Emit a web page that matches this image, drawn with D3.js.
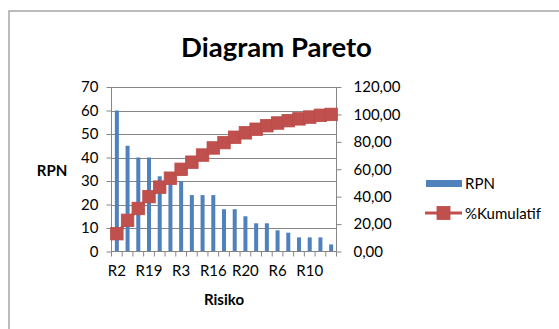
<!DOCTYPE html>
<html>
<head>
<meta charset="utf-8">
<script src="https://cdn.jsdelivr.net/npm/d3@7"></script>
<style>
  html, body { margin: 0; padding: 0; background: #fff; }
  svg { display: block; font-family: Lato, "Open Sans", sans-serif; }
</style>
</head>
<body>
<svg id="chart" width="559" height="329"></svg>
<script>
// Risks sorted by RPN (descending) for the Pareto analysis
const categories = ["R2", "R7", "R12", "R19", "R1", "R14", "R3", "R8", "R11", "R16",
                    "R4", "R9", "R20", "R13", "R17", "R6", "R5", "R15", "R10", "R18", "R21"];
const rpnValues = [60, 45, 40, 40, 32, 30, 30, 24, 24, 24,
                   18, 18, 15, 12, 12, 9, 8, 6, 6, 6, 3];
const leftTicks = [0, 10, 20, 30, 40, 50, 60, 70];
const rightTicks = [0, 20, 40, 60, 80, 100, 120];
const shownLabels = ["R2", "R19", "R3", "R16", "R20", "R6", "R10"];

const total = d3.sum(rpnValues);
let running = 0;
const cumulative = rpnValues.map(v => { running += v; return running / total * 100; });

const svg = d3.select("#chart");
const plot = { left: 111.5, right: 336.5, top: 87, bottom: 251.5 };

const x = d3.scaleBand().domain(categories).range([plot.left, plot.right]).paddingInner(0).paddingOuter(0);
const yL = d3.scaleLinear().domain([0, 70]).range([plot.bottom, plot.top]);
const yR = d3.scaleLinear().domain([0, 120]).range([plot.bottom, plot.top]);

const blue = "#4f81bd", red = "#c0504d", axisGray = "#868686";

// chart frame
svg.append("rect").attr("x", 9).attr("y", 11).attr("width", 560).attr("height", 330)
  .attr("fill", "#fff").attr("stroke", "#a6a6a6").attr("stroke-width", 1.5);

// title
svg.append("text").attr("x", 276.5).attr("y", 57).attr("text-anchor", "middle")
  .attr("font-size", 27.5).attr("font-weight", "bold").attr("fill", "#000").text("Diagram Pareto");

// horizontal gridlines on the left axis ticks
svg.append("g").selectAll("line").data(leftTicks.filter(t => t > 0)).join("line")
  .attr("x1", plot.left).attr("x2", plot.right)
  .attr("y1", d => Math.round(yL(d)) + 0.5).attr("y2", d => Math.round(yL(d)) + 0.5)
  .attr("stroke", "#868686").attr("stroke-width", 1);

// bars
const barW = 4;
svg.append("g").selectAll("rect").data(rpnValues).join("rect")
  .attr("x", (d, i) => x(categories[i]) + x.bandwidth() / 2 - barW / 2)
  .attr("y", d => yL(d))
  .attr("width", barW)
  .attr("height", d => plot.bottom - yL(d))
  .attr("fill", blue);

// left axis
const axL = svg.append("g").attr("transform", `translate(${plot.left},0)`)
  .call(d3.axisLeft(yL).tickValues(leftTicks).tickSize(5).tickPadding(8).tickFormat(d3.format("d")));
// right axis
const fmtComma = d => d.toFixed(2).replace(".", ",");
const axR = svg.append("g").attr("transform", `translate(${plot.right},0)`)
  .call(d3.axisRight(yR).tickValues(rightTicks).tickSize(5).tickPadding(12).tickFormat(fmtComma));
// bottom axis
const axB = svg.append("g").attr("transform", `translate(0,${plot.bottom})`)
  .call(d3.axisBottom(x).tickSize(0).tickPadding(14)
    .tickFormat(d => shownLabels.includes(d) ? d : ""));
// tick marks at category boundaries
svg.append("g").selectAll("line").data(d3.range(categories.length + 1)).join("line")
  .attr("x1", i => plot.left + i * x.step()).attr("x2", i => plot.left + i * x.step())
  .attr("y1", plot.bottom).attr("y2", plot.bottom + 5)
  .attr("stroke", axisGray);

[axL, axR, axB].forEach(g => {
  g.select(".domain").attr("stroke", axisGray).attr("stroke-width", 1);
  g.selectAll(".tick line").attr("stroke", axisGray);
  g.selectAll(".tick text").attr("font-size", 15).attr("fill", "#000")
    .attr("font-family", "Lato, 'Open Sans', sans-serif");
});
axB.select(".domain").attr("d", `M${plot.left},0H${plot.right}`);
axL.select(".domain").attr("d", `M0,${plot.bottom}V${plot.top}`);
axR.select(".domain").attr("d", `M0,${plot.bottom}V${plot.top}`);

// cumulative percentage line with square markers
const line = d3.line().x((d, i) => x(categories[i]) + x.bandwidth() / 2).y(d => yR(d));
svg.append("path").datum(cumulative).attr("d", line)
  .attr("fill", "none").attr("stroke", red).attr("stroke-width", 3);
const mk = 12.5;
svg.append("g").selectAll("rect").data(cumulative).join("rect")
  .attr("x", (d, i) => x(categories[i]) + x.bandwidth() / 2 - mk / 2)
  .attr("y", d => yR(d) - mk / 2)
  .attr("width", mk).attr("height", mk)
  .attr("fill", red).attr("stroke", "#bb4b48").attr("stroke-width", 0.8);

// axis titles
svg.append("text").attr("x", 52).attr("y", 176).attr("text-anchor", "middle")
  .attr("font-size", 15).attr("font-weight", "bold").text("RPN");
svg.append("text").attr("x", (plot.left + plot.right) / 2).attr("y", 305).attr("text-anchor", "middle")
  .attr("font-size", 15).attr("font-weight", "bold").text("Risiko");

// legend
const lg = svg.append("g");
lg.append("rect").attr("x", 426).attr("y", 180).attr("width", 36).attr("height", 7).attr("fill", blue);
lg.append("text").attr("x", 465).attr("y", 188.5).attr("font-size", 15).text("RPN");
lg.append("line").attr("x1", 425).attr("x2", 462).attr("y1", 213).attr("y2", 213)
  .attr("stroke", red).attr("stroke-width", 3);
lg.append("rect").attr("x", 443.5 - 6.5).attr("y", 213 - 6.5).attr("width", 13).attr("height", 13)
  .attr("fill", red).attr("stroke", "#bb4b48").attr("stroke-width", 0.8);
lg.append("text").attr("x", 465).attr("y", 218.5).attr("font-size", 15).text("%Kumulatif");
</script>
</body>
</html>
